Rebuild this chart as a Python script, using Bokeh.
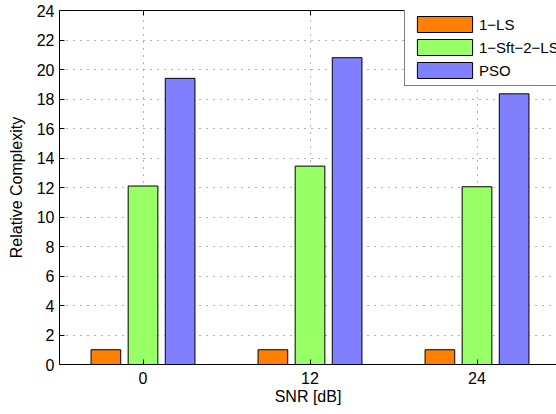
from bokeh.plotting import figure
from bokeh.models import FixedTicker, LinearAxis, Legend, LegendItem, Range1d
from bokeh.embed import file_html
from bokeh.resources import INLINE

# SNR groups and relative complexity of each scheme
snr_labels = ["0", "12", "24"]
ls_1 = [1.0, 1.0, 1.0]
sft_2_ls = [12.1, 13.45, 12.05]
pso = [19.4, 20.8, 18.35]
series_names = ["1\u2212LS", "1\u2212Sft\u22122\u2212LS", "PSO"]
series_colors = ["#FF8000", "#99FF66", "#8080FF"]
y_ticks = list(range(0, 25, 2))

FONT = "Liberation Sans"
positions = list(range(1, len(snr_labels) + 1))

# grouped-bar geometry: three bars sharing 2/3 of each slot
group_width = 2.0 / 3.0
step = group_width / 3.0
bar_width = step * 0.8

p = figure(
    width=556, height=414,
    output_backend="svg", toolbar_location=None,
    x_range=Range1d(0.5, 3.476), y_range=Range1d(0, 24),
    min_border_left=59, min_border_right=0,
    min_border_top=10, min_border_bottom=50,
)
p.outline_line_color = None
p.background_fill_color = "white"
p.border_fill_color = "white"

renderers = []
for k, (vals, color) in enumerate(zip([ls_1, sft_2_ls, pso], series_colors)):
    xs = [x + (k - 1) * step for x in positions]
    r = p.vbar(x=xs, top=vals, width=bar_width, bottom=0,
               fill_color=color, line_color="black", line_width=1)
    renderers.append(r)

# axes
p.xaxis.ticker = FixedTicker(ticks=positions)
p.xaxis.major_label_overrides = {x: s for x, s in zip(positions, snr_labels)}
p.yaxis.ticker = FixedTicker(ticks=y_ticks)
p.xaxis.axis_label = "SNR [dB]"
p.yaxis.axis_label = "Relative Complexity"
for ax in (p.xaxis[0], p.yaxis[0]):
    ax.axis_line_color = "black"
    ax.axis_line_width = 1
    ax.major_tick_in = 5
    ax.major_tick_out = 0
    ax.major_tick_line_color = "black"
    ax.minor_tick_line_color = None
    ax.major_label_text_font = FONT
    ax.major_label_text_font_size = "16px"
    ax.major_label_text_color = "black"
    ax.axis_label_text_font = FONT
    ax.axis_label_text_font_size = "16px"
    ax.axis_label_text_font_style = "normal"
    ax.axis_label_text_color = "black"
p.xaxis.major_label_standoff = 7
p.xaxis.axis_label_standoff = 1
p.yaxis.major_label_standoff = 5
p.yaxis.axis_label_standoff = 9

# box edge along the top
top = LinearAxis(ticker=FixedTicker(ticks=positions))
top.axis_line_color = "black"
top.major_tick_in = 5
top.major_tick_out = 0
top.minor_tick_line_color = None
top.major_label_text_font_size = "0px"
top.major_label_standoff = 0
p.add_layout(top, "above")

# dotted grid
p.xgrid.ticker = FixedTicker(ticks=positions)
p.ygrid.ticker = FixedTicker(ticks=y_ticks)
for g in (p.xgrid[0], p.ygrid[0]):
    g.grid_line_color = "#666666"
    g.grid_line_dash = "1 6"
    g.grid_line_width = 1

# legend swatches are drawn inset by 10% of the glyph box
legend = Legend(
    items=[LegendItem(label=n, renderers=[r]) for n, r in zip(series_names, renderers)],
    location=(345, 278),
    border_line_color="black", border_line_width=1,
    background_fill_color="white", background_fill_alpha=1,
    label_text_font=FONT, label_text_font_size="15px", label_text_color="black",
    glyph_width=69, glyph_height=20, label_height=20, label_width=110,
    spacing=3, padding=5, label_standoff=0, margin=0,
)
p.add_layout(legend)

open("out.html", "w").write(file_html(p, INLINE))
